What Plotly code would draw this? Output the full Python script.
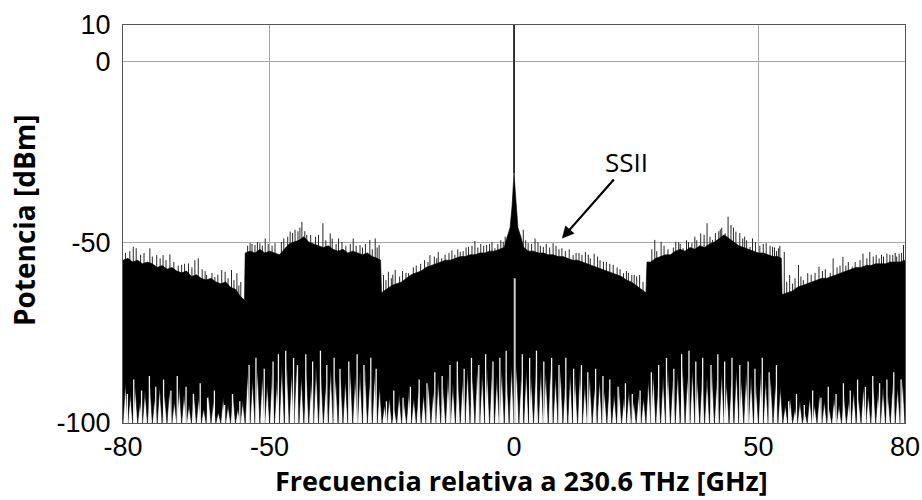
import numpy as np
import plotly.graph_objects as go

# ---------------- data ----------------
# Upper envelope of the dense (solid black) part of the spectrum, dBm
env_freq = [-80, -79, -78, -77, -76, -75, -74, -73, -72, -71, -70, -69, -68, -67, -66, -65, -64, -63, -62, -61,
            -60, -59, -58, -57, -56, -55.15,
            -55, -54, -53, -52, -51, -50, -49, -48, -47, -46, -45, -44, -43, -42, -41, -40, -39, -38, -37, -36,
            -35, -34, -33, -32, -31, -30, -29, -28, -27.3, -27.1,
            -26, -25, -24, -23, -22, -21, -20, -19, -18, -17, -16, -15, -14, -13, -12, -11, -10, -9, -8, -7,
            -6, -5, -4, -3, -2, -1.5, -0.8, -0.4, -0.1, 0, 0.1, 0.4, 0.8, 1.5,
            2, 3, 4, 5, 6, 7, 8, 9, 10, 11, 12, 13, 14, 15, 16, 17, 18, 19, 20, 21, 22, 23, 24, 25, 26, 27.0,
            27.2, 28, 29, 30, 31, 32, 33, 34, 35, 36, 37, 38, 39, 40, 41, 42, 43, 44, 45, 46, 47, 48, 49, 50,
            51, 52, 53, 54, 54.7,
            54.85, 56, 57, 58, 59, 60, 61, 62, 63, 64, 65, 66, 67, 68, 69, 70, 71, 72, 73, 74, 75, 76, 77, 78,
            79, 80]
env_dbm = [-55, -54.5, -55.5, -55, -56, -55.5, -56, -57, -56.5, -57.5, -57, -58, -58.5, -58, -59.5, -59, -60,
           -60.5, -60, -61, -61.5, -61, -62.5, -63, -65, -66,
           -53, -52.5, -53, -52, -53, -52.5, -53, -53.5, -52, -50.5, -50, -49.5, -48.5, -50, -50.5, -51, -51.5,
           -51, -52, -52.5, -52, -53, -52.5, -53, -53.5, -53, -54, -54.5, -55, -64,
           -63, -62, -61.5, -61, -60, -59, -58.5, -58, -57, -56.5, -56, -55.5, -55, -55, -54.5, -54, -54,
           -53.5, -53.5, -53, -53, -52.5, -52.5, -52, -51.5, -49, -46, -40, -33, -31, -33, -40, -46, -49,
           -51.5, -52.5, -52.5, -53, -53, -53.5, -53.5, -54, -54, -54.5, -55, -55, -55.5, -56, -56.5, -57,
           -57.5, -58, -58.5, -59, -59.5, -60.5, -61, -62, -63, -64,
           -55.5, -55.5, -54.5, -54, -53.5, -53.5, -52.5, -52, -52.5, -51.5, -52, -51, -51.5, -50.5, -50,
           -49, -48, -49, -50, -51, -51.5, -52, -52.5, -53,
           -53, -53.5, -54, -54, -54.5,
           -64.5, -64, -63.5, -62.5, -62, -61.5, -61, -60.5, -60, -60, -59.5, -59, -58.5, -58, -57.5, -57,
           -57, -56.5, -56.5, -56, -56, -56, -55.5, -55.5, -55.5, -55]

# Tips of the white gaps that rise from the noise floor (at half-GHz positions), dBm
noise_floor = -100
notch_freq = [-79.5 + i for i in range(160)]
notch_dbm = [
    # -79.5 ... -55.5
    -89, -92, -90, -94, -91, -89, -93, -90, -92, -91, -94, -90, -92, -95, -91, -93, -96, -92, -94, -97,
    -93, -95, -92, -96, -94,
    # -54.5 ... -27.5
    -86, -88, -85, -87, -89, -86, -88, -84, -83, -86, -84, -87, -85, -88, -84, -86, -89, -85, -87, -86,
    -88, -85, -87, -86, -84, -88, -86, -90,
    # -26.5 ... -0.5
    -95, -93, -96, -92, -94, -91, -93, -90, -92, -89, -91, -88, -90, -87, -89, -86, -88, -85, -87, -84,
    -86, -85, -84, -87, -85, -86, -84,
    # 0.5 ... 26.5
    -84, -86, -85, -87, -84, -85, -86, -84, -87, -85, -88, -86, -87, -85, -89, -87, -90, -88, -91, -89,
    -92, -90, -93, -91, -94, -92, -93,
    # 27.5 ... 54.5
    -88, -86, -89, -87, -85, -88, -86, -84, -87, -85, -88, -86, -87, -85, -88, -86, -89, -87, -85, -88,
    -86, -87, -89, -86, -88, -87, -89, -90,
    # 55.5 ... 79.5
    -95, -93, -96, -94, -97, -93, -95, -92, -94, -96, -93, -95, -92, -94, -91, -93, -90, -92, -89, -91,
    -90, -92, -89, -90, -88]

# Extra narrow white gaps at irregular positions (top of each gap, dBm)
gap_freq = [-79.1, -77.8, -76.2, -74.6, -73.3, -71.7, -70.2, -68.9, -67.1, -65.6, -64.2, -62.7, -61.3, -59.2,
            -57.6, -56.1,
            -54.2, -52.8, -51.1, -49.3, -48.2, -46.7, -45.1, -44.3, -42.6, -41.2, -39.6, -38.3, -36.8, -35.6,
            -33.8, -32.1, -30.7, -29.3, -28.2,
            -26.1, -24.6, -22.7, -21.2, -19.4, -17.8, -16.2, -14.7, -13.1, -11.6, -10.2, -8.7, -7.2, -5.8,
            -4.3, -2.9, -1.6, 1.7, 3.2, 4.6, 6.1, 7.7, 9.2, 10.6, 12.2, 13.8, 15.1, 16.7, 18.2, 19.6, 21.3,
            22.8, 24.2, 25.8,
            28.1, 29.6, 31.2, 32.7, 34.3, 35.8, 37.2, 38.6, 40.3, 41.7, 43.1, 44.6, 46.2, 47.9, 49.3, 50.8,
            52.2, 53.7,
            56.2, 57.8, 59.4, 61.1, 62.8, 64.3, 65.9, 67.4, 68.8, 70.3, 71.9, 73.4, 74.8, 76.3, 77.7, 79.2]
gap_dbm = [-92, -88, -91, -87, -90, -88, -91, -87, -90, -92, -89, -93, -91, -95, -92, -94,
           -84, -82, -85, -83, -81, -80, -82, -84, -81, -83, -80, -84, -82, -85, -83, -81, -84, -82, -85,
           -94, -91, -93, -90, -88, -89, -86, -87, -84, -83, -85, -82, -84, -81, -83, -82, -80, -81, -82,
           -80, -83, -82, -84, -82, -85, -84, -86, -85, -87, -88, -90, -89, -92, -91,
           -86, -84, -82, -85, -81, -80, -83, -82, -84, -81, -83, -82, -84, -83, -85, -82, -86, -84,
           -94, -92, -95, -91, -93, -90, -92, -89, -91, -88, -90, -87, -89, -88, -86, -88]

# Thin peaks standing above the solid envelope
spike_freq = [-79.5, -78.6, -77.9, -77.3, -76.4, -75.7, -74.5, -74.0, -73.1, -72.4, -71.8, -71.2, -70.4,
              -69.6, -68.7, -68.0, -67.4, -66.6, -65.9, -65.3, -64.6, -63.8, -63.2, -62.9, -61.8, -61.2,
              -60.6, -59.8, -59.1, -58.5, -57.8, -57.3, -56.7, -56.3, -55.9,
              -54.5, -54.0, -53.6, -53.0, -52.5, -52.0, -51.5, -50.9, -50.3, -49.5, -48.9, -47.6, -47.1,
              -46.3, -45.8, -45.3, -44.8, -44.2, -43.8, -43.4, -42.8, -42.4, -41.6, -40.6, -40.0, -39.1,
              -38.5, -37.6, -37.2, -36.4, -35.9, -35.2, -34.4, -33.5, -32.9, -32.3, -31.5, -31.0, -30.4,
              -29.5, -29.0, -28.4, -28.0, -27.6,
              -26.7, -26.2, -25.7, -25.1, -24.8, -24.3, -23.4, -22.8, -22.1, -21.6, -20.6, -20.0, -19.1,
              -18.3, -17.6, -17.2, -16.3, -15.8, -15.5, -14.8, -14.1, -13.3, -12.7, -12.1, -11.5, -11.0,
              -10.4, -9.8, -9.3, -8.6, -8.0, -7.4, -6.8, -6.2, -5.6, -5.0, -4.5, -3.9, -3.3, -2.7, -2.2,
              -1.8, -1.2, 1.2, 1.9, 2.4, 2.9, 3.6, 4.3, 4.9, 5.4, 6.0, 6.6, 7.3, 8.0, 8.6, 9.2, 9.8, 10.5,
              11.3, 12.1, 12.7, 13.3, 13.9, 14.6, 15.2, 15.6, 16.4, 17.1, 17.6, 18.3, 18.9, 19.6, 20.3,
              21.1, 21.7, 22.4, 23.0, 23.4, 24.1, 24.6, 25.1, 25.7, 26.4,
              27.6, 28.2, 28.8, 29.2, 30.1, 30.7, 31.5, 32.6, 33.1, 33.7, 34.0, 34.6, 35.3, 35.7, 36.4,
              37.0, 37.4, 38.2, 38.9, 39.5, 40.1, 40.6, 41.2, 41.9, 42.2, 42.5, 43.2, 43.8, 44.4, 44.9,
              45.4, 46.2, 46.8, 47.2, 47.6, 48.3, 48.8, 49.4, 50.3, 51.0, 51.6, 52.4, 52.9, 53.3, 53.7,
              54.1, 54.4,
              55.3, 55.8, 56.4, 57.0, 57.5, 58.2, 58.7, 59.2, 60.1, 60.8, 61.6, 62.4, 63.1, 63.7, 64.7,
              65.3, 66.1, 66.7, 67.3, 67.9, 68.4, 69.2, 69.8, 70.8, 71.4, 72.2, 72.8, 73.5, 74.1, 74.7,
              75.2, 75.6, 76.3, 76.9, 77.5, 78.0, 78.3, 78.8, 79.3, 79.7]
spike_dbm = [-53, -52.5, -51.3, -51.7, -53.5, -53, -51.7, -54, -53.6, -54.5, -53.6, -55, -53.4,
             -55.5, -56.5, -56.3, -56, -55.9, -57, -55.0, -54.5, -57.5, -58, -59.1, -58.5, -59.6,
             -59, -57.7, -58.2, -60, -57.7, -60.5, -58.6, -62, -61.0,
             -51, -50.3, -50.5, -50.8, -50, -50.3, -51, -49.0, -50.5, -51, -50.3, -50, -49,
             -48.5, -47.1, -47.5, -46.6, -47, -46, -44.4, -47, -48.0, -48, -48.5, -48, -44.8,
             -49.5, -47.6, -49, -50.5, -49.0, -50, -51, -50.5, -49.0, -51, -50.8, -51.5, -50.5,
             -49.4, -52, -49.0, -51.5, -50.8,
             -59.1, -60.5, -58.2, -60, -59, -57.7, -59.5, -58, -58.5, -58.6, -57, -56.5, -56,
             -55, -55.5, -53.6, -54, -54.5, -52.7, -54.5, -53.5, -53, -52.3, -53.5, -52, -52.7,
             -52.5, -51.5, -51.3, -51, -49.7, -51.5, -50.5, -51, -50.8, -50.5, -50, -51.7, -50.5, -49.5, -49.9,
             -48.5, -49.0, -48, -46.6, -49.5, -50.3, -50.5, -49.0, -50, -51, -51.3, -50.5, -51.5, -50.3,
             -51, -52, -51.7, -52.5,
             -52, -53.6, -53, -53, -53.5, -52.7, -53.5, -54.5, -53.2, -54, -55, -55.4, -55.5, -56, -56.3, -57,
             -57.5, -58.6, -58, -58.5, -59.1, -59, -59.5, -59.1, -61, -61,
             -52, -49.4, -52.5, -49.9, -51, -52, -51.5, -49.9, -50, -50.5, -51.7, -49.5, -50, -50.3, -48.5,
             -49.5, -47.6, -48, -44.8, -48.5, -49.4, -47.5, -47, -46.5, -46, -47.6, -43.0, -45.3, -46, -47.1,
             -47.5, -49.0, -48.5, -49.5, -51.3, -49, -50, -51, -50.5, -50.3, -51, -51.3, -51.5, -52.5, -51.7,
             -51, -52.7,
             -61, -59.1, -61.5, -60, -56.3, -59.5, -60.5, -58.6, -59, -58.5, -56.8, -58, -57.5, -58.5, -54.5,
             -57, -56.5, -54.1, -56.5, -55.5, -56.8, -55.5, -55, -53.2, -54.5, -52.7, -54, -53.6, -54.5, -53.5,
             -54, -53.2, -53.5, -53.6, -53, -54, -53.2, -53, -50.8, -52.5]

# Optical carrier and the narrow dip beside it
carrier_freq = 0.0
carrier_top = 10
carrier_base = -31
dip_top = -60

x_ticks = [-80, -50, 0, 50, 80]
y_ticks = [-100, -50, 0, 10]

# ---------------- build the figure ----------------
bot_x, bot_y = [], []
for i in range(161):
    bot_x.append(-80 + i)
    bot_y.append(noise_floor)
    if i < 160:
        bot_x.append(notch_freq[i])
        bot_y.append(notch_dbm[i])
poly_x = list(env_freq) + bot_x[::-1]
poly_y = list(env_dbm) + bot_y[::-1]

sx, sy = [], []
for f, v in zip(spike_freq, spike_dbm):
    sx += [f, f, None]
    sy += [-75, v, None]

gx, gy = [], []
for f, v in zip(gap_freq, gap_dbm):
    gx += [f, f, None]
    gy += [noise_floor, v, None]

fig = go.Figure()
# thin peaks first, so the solid mass hides their lower part
fig.add_trace(go.Scatter(x=sx, y=sy, mode="lines", line=dict(color="#262626", width=1),
                         hoverinfo="skip", showlegend=False))
fig.add_trace(go.Scatter(x=poly_x, y=poly_y, mode="lines", fill="toself", fillcolor="black",
                         line=dict(color="black", width=0.6), hoverinfo="skip", showlegend=False))
fig.add_trace(go.Scatter(x=gx, y=gy, mode="lines", line=dict(color="#f2f2f2", width=1.3),
                         hoverinfo="skip", showlegend=False))
fig.add_trace(go.Scatter(x=[carrier_freq + 0.15, carrier_freq + 0.15], y=[noise_floor, dip_top],
                         mode="lines", line=dict(color="#d0d0d0", width=2), hoverinfo="skip",
                         showlegend=False))
fig.add_trace(go.Scatter(x=[carrier_freq, carrier_freq], y=[carrier_base, carrier_top], mode="lines",
                         line=dict(color="black", width=1.5), hoverinfo="skip", showlegend=False))

font_fam = "Liberation Sans, Arial, sans-serif"
title_fam = "Open Sans, Noto Sans, sans-serif"

fig.update_layout(
    width=922, height=500,
    margin=dict(l=123, r=17, t=25, b=77, autoexpand=False),
    paper_bgcolor="white", plot_bgcolor="white",
    showlegend=False,
    xaxis=dict(range=[-80, 80], tickvals=x_ticks, ticktext=[str(v) for v in x_ticks],
               showgrid=True, gridcolor="#a6a6a6", gridwidth=1, zeroline=False, automargin=False,
               showline=True, linecolor="#555555", linewidth=1, mirror=True, ticks="",
               tickfont=dict(family=font_fam, size=27, color="black")),
    yaxis=dict(range=[-100, 10], tickvals=y_ticks, ticktext=[str(v) for v in y_ticks],
               showgrid=True, gridcolor="#a6a6a6", gridwidth=1, zeroline=False, automargin=False,
               showline=True, linecolor="#555555", linewidth=1, mirror=True, ticks="",
               ticklabelstandoff=6,
               tickfont=dict(family=font_fam, size=27, color="black")),
    annotations=[
        dict(text="<b>Frecuencia relativa a 230.6 THz [GHz]</b>", xref="paper", yref="paper",
             x=0.509, y=-0.1457, xanchor="center", yanchor="middle", showarrow=False,
             font=dict(family=title_fam, size=27, color="black")),
        dict(text="<b>Potencia [dBm]</b>", xref="paper", yref="paper", x=-0.1265, y=0.51,
             xanchor="center", yanchor="middle", textangle=-90, showarrow=False,
             font=dict(family=title_fam, size=28, color="black")),
        dict(text="SSII", xref="x", yref="y", x=23.1, y=-28.0, xanchor="center", yanchor="middle",
             showarrow=False, font=dict(family=title_fam, size=26, color="black")),
        dict(text="", xref="x", yref="y", x=9.8, y=-49, ax=20.7, ay=-32.3, axref="x", ayref="y",
             showarrow=True, arrowhead=2, arrowsize=1.1, arrowwidth=2.2, arrowcolor="black"),
    ],
)

fig.write_html("out.html", config={"displayModeBar": False},
               post_script="document.body.style.margin='0px';")
